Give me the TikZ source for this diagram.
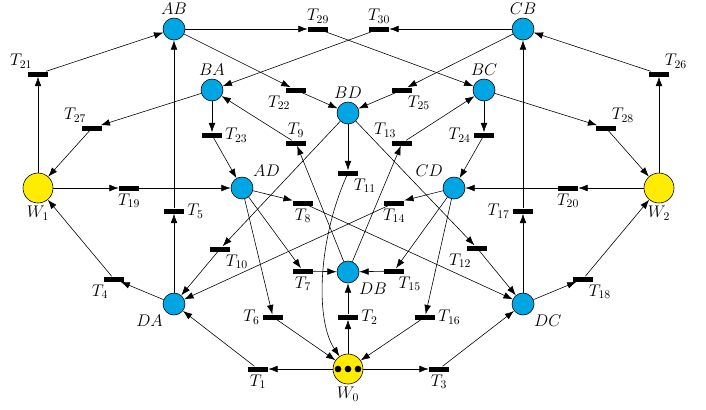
\documentclass[tikz,border=0pt]{standalone}
\usepackage{amsmath,amssymb}
\usepackage{tikz}
\usepackage{xcolor}
\usetikzlibrary{arrows.meta}
\definecolor{ink}{HTML}{000000}
\definecolor{placeblue}{HTML}{00A6E4}
\definecolor{workyellow}{HTML}{FFEC00}
\tikzset{
  placenode/.style={circle,draw=ink,fill=placeblue,line width=0.5pt,
                    minimum size=0.66cm,inner sep=0pt},
  worknode/.style={circle,draw=ink,fill=workyellow,line width=0.5pt,
                   minimum size=0.9cm,inner sep=0pt,label distance=1pt},
  transbar/.style={rectangle,fill=ink,minimum width=0.6cm,
                   minimum height=0.15cm,inner sep=0pt},
  tokendot/.style={circle,fill=ink,inner sep=0pt,minimum size=0.2cm},
  arcarr/.style={-{Latex[length=2.8mm,width=2mm]},line width=0.5pt,color=ink},
  every label/.style={font=\Large,inner sep=2.5pt}
}
\begin{document}
\begin{tikzpicture}[x=0.03cm,y=-0.03cm,>=Latex]
  \useasboundingbox (0,0) rectangle (706,409);

  \node[worknode,label=below:$W_1$] (W1) at (38,188) {};
  \node[worknode,label=below:$W_2$] (W2) at (659,188) {};
  \node[worknode,label=below:$W_0$] (W0) at (348,369) {};
  \node[tokendot] (k1) at (338,369) {};
  \node[tokendot] (k2) at (348,369) {};
  \node[tokendot] (k3) at (358,369) {};

  \node[placenode,label=above:$AB$] (AB) at (174,29) {};
  \node[placenode,label=above:$CB$] (CB) at (523,29) {};
  \node[placenode,label=above:$BA$] (BA) at (212,90) {};
  \node[placenode,label=above:$BC$] (BC) at (484,90) {};
  \node[placenode,label=above:$BD$] (BD) at (348,113) {};
  \node[placenode,label=above right:$AD$] (AD) at (242,188) {};
  \node[placenode,label=above left:$CD$] (CD) at (454,188) {};
  \node[placenode,label=-45:$DB$] (DB) at (348,272) {};
  \node[placenode,label=225:$DA$] (DA) at (174,304) {};
  \node[placenode,label=-45:$DC$] (DC) at (523,304) {};

  \node[transbar,label=below:$T_1$] (T1) at (258,369) {};
  \node[transbar,label=right:$T_2$] (T2) at (348,317) {};
  \node[transbar,label=below:$T_3$] (T3) at (439,369) {};
  \node[transbar,label=225:$T_4$] (T4) at (114,279) {};
  \node[transbar,label=right:$T_5$] (T5) at (174,211) {};
  \node[transbar,label=left:$T_6$] (T6) at (273,317) {};
  \node[transbar,label=below:$T_7$] (T7) at (303,271) {};
  \node[transbar,label=below:$T_8$] (T8) at (303,203) {};
  \node[transbar,label=above:$T_9$] (T9) at (296,143) {};
  \node[transbar,label=-45:$T_{10}$] (T10) at (220,249) {};
  \node[transbar,label=-45:$T_{11}$] (T11) at (348,173) {};
  \node[transbar,label=225:$T_{12}$] (T12) at (477,248) {};
  \node[transbar,label=135:$T_{13}$] (T13) at (402,143) {};
  \node[transbar,label=below:$T_{14}$] (T14) at (394,203) {};
  \node[transbar,label=-60:$T_{15}$] (T15) at (394,271) {};
  \node[transbar,label=right:$T_{16}$] (T16) at (425,317) {};
  \node[transbar,label=left:$T_{17}$] (T17) at (523,211) {};
  \node[transbar,label=-45:$T_{18}$] (T18) at (583,279) {};
  \node[transbar,label=below:$T_{19}$] (T19) at (129,188) {};
  \node[transbar,label=below:$T_{20}$] (T20) at (568,188) {};
  \node[transbar,label=135:$T_{21}$] (T21) at (38,74) {};
  \node[transbar,label=225:$T_{22}$] (T22) at (296,90) {};
  \node[transbar,label=right:$T_{23}$] (T23) at (212,135) {};
  \node[transbar,label=left:$T_{24}$] (T24) at (484,135) {};
  \node[transbar,label=-45:$T_{25}$] (T25) at (402,90) {};
  \node[transbar,label=45:$T_{26}$] (T26) at (659,74) {};
  \node[transbar,label=135:$T_{27}$] (T27) at (92,128) {};
  \node[transbar,label=45:$T_{28}$] (T28) at (606,128) {};
  \node[transbar,label=above:$T_{29}$] (T29) at (318,29) {};
  \node[transbar,label=above:$T_{30}$] (T30) at (379,29) {};

  \draw[arcarr] (W1)--(T21);  \draw[arcarr] (T21)--(AB);
  \draw[arcarr] (AB)--(T29);  \draw[arcarr] (T29)--(BC);
  \draw[arcarr] (CB)--(T30);  \draw[arcarr] (T30)--(BA);
  \draw[arcarr] (AB)--(T22);  \draw[arcarr] (T22)--(BD);
  \draw[arcarr] (CB)--(T25);  \draw[arcarr] (T25)--(BD);
  \draw[arcarr] (BA)--(T27);  \draw[arcarr] (T27)--(W1);
  \draw[arcarr] (BC)--(T28);  \draw[arcarr] (T28)--(W2);
  \draw[arcarr] (W2)--(T26);  \draw[arcarr] (T26)--(CB);
  \draw[arcarr] (BA)--(T23);  \draw[arcarr] (T23)--(AD);
  \draw[arcarr] (BC)--(T24);  \draw[arcarr] (T24)--(CD);
  \draw[arcarr] (W1)--(T19);  \draw[arcarr] (T19)--(AD);
  \draw[arcarr] (W2)--(T20);  \draw[arcarr] (T20)--(CD);
  \draw[arcarr] (DA)--(T5);   \draw[arcarr] (T5)--(AB);
  \draw[arcarr] (DC)--(T17);  \draw[arcarr] (T17)--(CB);
  \draw[arcarr] (DA)--(T4);   \draw[arcarr] (T4)--(W1);
  \draw[arcarr] (DC)--(T18);  \draw[arcarr] (T18)--(W2);
  \draw[arcarr] (W0)--(T1);   \draw[arcarr] (T1)--(DA);
  \draw[arcarr] (W0)--(T3);   \draw[arcarr] (T3)--(DC);
  \draw[arcarr] (W0)--(T2);   \draw[arcarr] (T2)--(DB);
  \draw[arcarr] (AD)--(T6);   \draw[arcarr] (T6)--(W0);
  \draw[arcarr] (CD)--(T16);  \draw[arcarr] (T16)--(W0);
  \draw[arcarr] (BD)--(T11);  \draw[arcarr] (T11) .. controls (318,240) and (315,320) .. (W0);
  \draw[arcarr] (DB)--(T9);   \draw[arcarr] (T9)--(BA);
  \draw[arcarr] (DB)--(T13);  \draw[arcarr] (T13)--(BC);
  \draw[arcarr] (AD)--(T8);   \draw[arcarr] (T8)--(DC);
  \draw[arcarr] (CD)--(T14);  \draw[arcarr] (T14)--(DA);
  \draw[arcarr] (BD)--(T10);  \draw[arcarr] (T10)--(DA);
  \draw[arcarr] (BD)--(T12);  \draw[arcarr] (T12)--(DC);
  \draw[arcarr] (AD)--(T7);   \draw[arcarr] (T7)--(DB);
  \draw[arcarr] (CD)--(T15);  \draw[arcarr] (T15)--(DB);
\end{tikzpicture}
\end{document}
